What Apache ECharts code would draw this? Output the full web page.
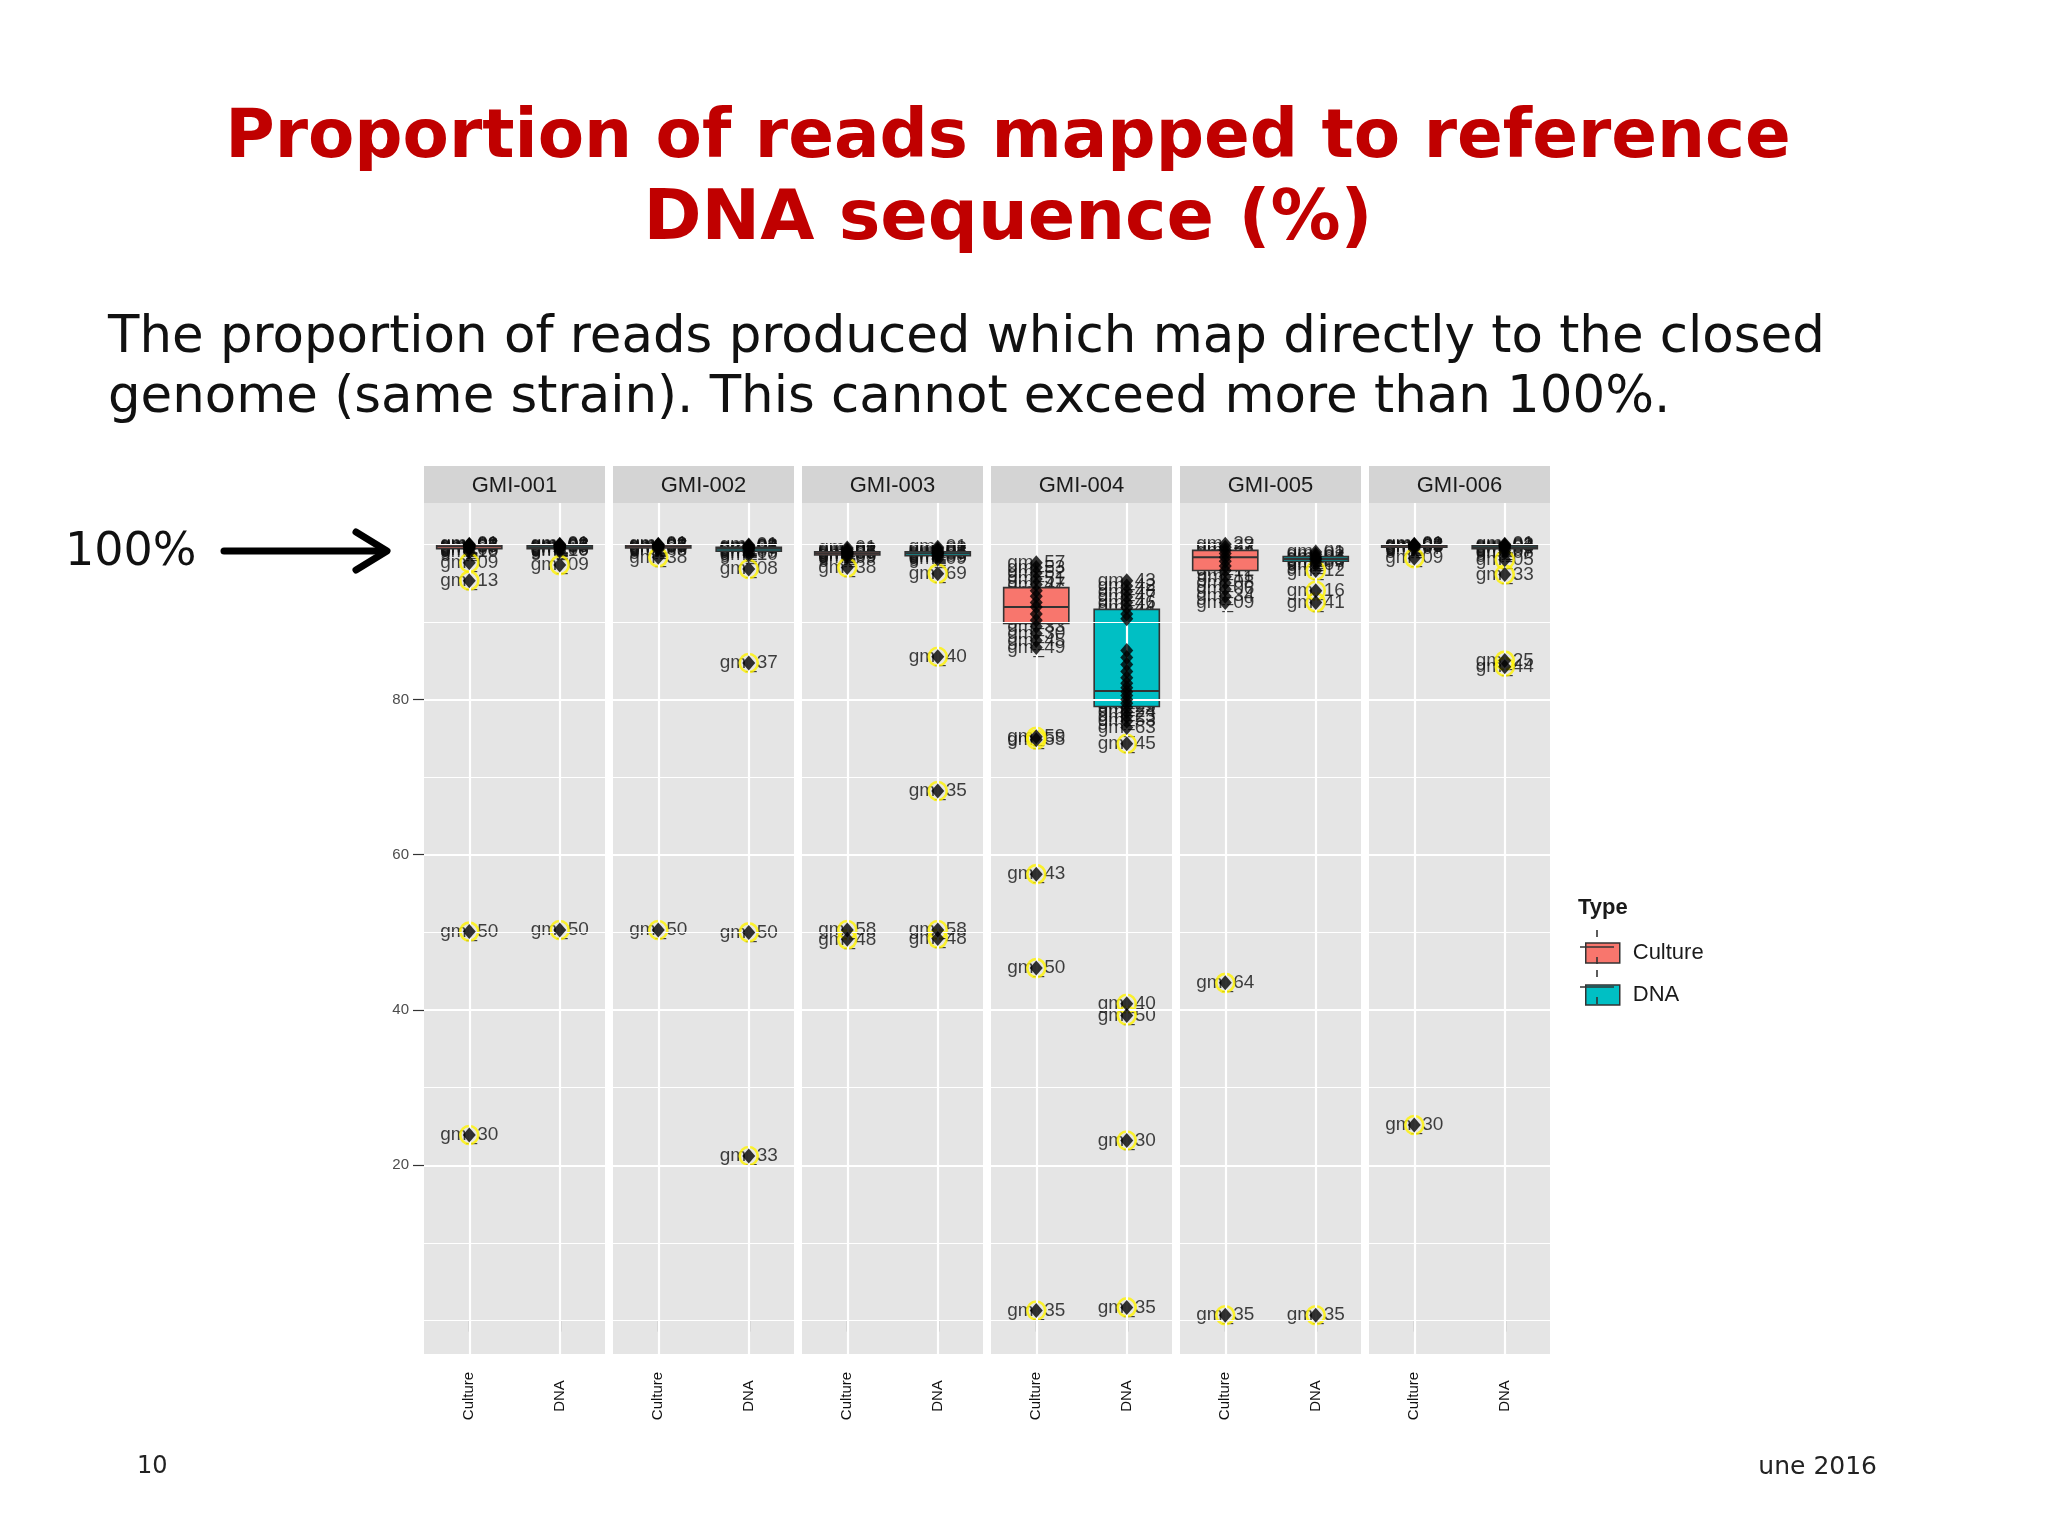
<!DOCTYPE html>
<html><head><meta charset="utf-8">
<script src="https://cdn.jsdelivr.net/npm/echarts@6/dist/echarts.min.js"></script>
<style>html,body{margin:0;padding:0;background:#fff}#c{width:2048px;height:1536px}</style>
</head><body><div id="c"></div>
<script>
// ---------------- DATA ----------------
const panels = ['GMI-001', 'GMI-002', 'GMI-003', 'GMI-004', 'GMI-005', 'GMI-006'];
const types = ['Culture', 'DNA'];
const yLabelTicks = [20, 40, 60, 80];
const minorGrid = [0, 10, 30, 50, 70, 90, 100];

// [min whisker, Q1, median, Q3, max whisker]
const boxCulture = [
  [98.8, 99.4, 99.7, 99.9, 100.0],
  [99.0, 99.5, 99.7, 99.9, 100.0],
  [98.1, 98.6, 98.8, 99.0, 99.5],
  [86.7, 89.8, 91.9, 94.4, 97.6],
  [92.5, 96.6, 98.3, 99.2, 100.0],
  [99.2, 99.6, 99.8, 99.9, 100.0]
];
const boxDNA = [
  [99.0, 99.4, 99.6, 99.8, 100.0],
  [98.6, 99.1, 99.4, 99.6, 99.9],
  [98.0, 98.5, 98.8, 99.0, 99.6],
  [76.4, 79.1, 81.1, 91.6, 95.3],
  [97.2, 97.8, 98.1, 98.4, 99.0],
  [98.8, 99.4, 99.6, 99.8, 100.0]
];

const ptsCulture001 = [['gm_01',100.0],['gm_02',99.9],['gm_03',99.9],['gm_04',99.8],['gm_05',99.7],['gm_06',99.6],['gm_07',99.5],['gm_08',99.3],['gm_10',99.0],['gm_09',97.6],['gm_13',95.3],['gm_50',50.1],['gm_30',23.9]];
const ptsCulture002 = [['gm_01',100.0],['gm_02',99.9],['gm_03',99.9],['gm_04',99.8],['gm_05',99.7],['gm_06',99.6],['gm_07',99.5],['gm_08',99.3],['gm_38',98.3],['gm_50',50.3]];
const ptsCulture003 = [['gm_01',99.5],['gm_02',99.3],['gm_03',99.1],['gm_04',99.0],['gm_05',98.9],['gm_06',98.8],['gm_07',98.7],['gm_08',98.5],['gm_09',98.3],['gm_38',97.0],['gm_58',50.3],['gm_48',49.1]];
const ptsCulture004 = [['gm_57',97.6],['gm_53',97.0],['gm_52',96.3],['gm_51',95.5],['gm_47',94.8],['gm_46',94.0],['gm_44',93.3],['gm_42',92.5],['gm_41',91.9],['gm_38',91.0],['gm_37',90.2],['gm_33',89.4],['gm_30',88.5],['gm_45',87.6],['gm_49',86.7],['gm_59',75.2],['gm_55',74.8],['gm_43',57.5],['gm_50',45.4],['gm_35',1.3]];
const ptsCulture005 = [['gm_29',100.0],['gm_27',99.6],['gm_24',99.2],['gm_22',98.8],['gm_20',98.3],['gm_18',97.8],['gm_15',97.2],['gm_12',96.6],['gm_11',95.8],['gm_08',95.0],['gm_06',94.2],['gm_34',93.3],['gm_09',92.5],['gm_64',43.5],['gm_35',0.7]];
const ptsCulture006 = [['gm_01',100.0],['gm_02',99.9],['gm_03',99.9],['gm_04',99.8],['gm_05',99.7],['gm_06',99.6],['gm_07',99.4],['gm_09',98.2],['gm_30',25.2]];

const ptsDNA001 = [['gm_01',100.0],['gm_02',99.9],['gm_03',99.9],['gm_04',99.8],['gm_05',99.7],['gm_06',99.6],['gm_07',99.5],['gm_08',99.3],['gm_10',99.1],['gm_09',97.3],['gm_50',50.3]];
const ptsDNA002 = [['gm_01',99.9],['gm_02',99.8],['gm_03',99.7],['gm_04',99.6],['gm_05',99.5],['gm_06',99.4],['gm_07',99.2],['gm_09',98.9],['gm_10',98.6],['gm_08',96.8],['gm_37',84.7],['gm_50',50.0],['gm_33',21.2]];
const ptsDNA003 = [['gm_01',99.6],['gm_02',99.4],['gm_03',99.2],['gm_04',99.0],['gm_05',98.9],['gm_06',98.8],['gm_07',98.6],['gm_08',98.4],['gm_09',98.1],['gm_69',96.2],['gm_40',85.5],['gm_35',68.2],['gm_58',50.3],['gm_48',49.2]];
const ptsDNA004 = [['gm_43',95.3],['gm_42',94.6],['gm_48',93.9],['gm_47',93.2],['gm_46',92.5],['gm_44',91.8],['gm_41',91.0],['gm_39',90.4],['gm_38',86.3],['gm_37',85.4],['gm_36',84.5],['gm_34',83.6],['gm_33',82.8],['gm_32',82.1],['gm_31',81.5],['gm_29',81.0],['gm_28',80.5],['gm_27',80.0],['gm_26',79.5],['gm_25',79.0],['gm_24',78.4],['gm_23',77.8],['gm_53',77.2],['gm_63',76.4],['gm_45',74.3],['gm_40',40.8],['gm_50',39.3],['gm_30',23.2],['gm_35',1.7]];
const ptsDNA005 = [['gm_01',99.0],['gm_02',98.7],['gm_03',98.4],['gm_04',98.2],['gm_05',98.0],['gm_06',97.7],['gm_07',97.4],['gm_12',96.6],['gm_16',94.0],['gm_41',92.5],['gm_35',0.7]];
const ptsDNA006 = [['gm_01',100.0],['gm_02',99.9],['gm_03',99.8],['gm_04',99.7],['gm_06',99.5],['gm_07',99.2],['gm_08',98.9],['gm_05',98.0],['gm_33',96.1],['gm_25',85.0],['gm_44',84.2]];

const ptsCulture = [ptsCulture001, ptsCulture002, ptsCulture003, ptsCulture004, ptsCulture005, ptsCulture006];
const ptsDNA = [ptsDNA001, ptsDNA002, ptsDNA003, ptsDNA004, ptsDNA005, ptsDNA006];

// ---------------- STYLE / LAYOUT ----------------
const fillColors = { Culture: '#F8766D', DNA: '#00BFC4' };
const PANEL_LEFT = 424, PANEL_W = 181, PANEL_STEP = 189;
const PANEL_TOP = 503, PANEL_H = 851;
const Y_MIN = -4.3, Y_MAX = 105.3;
const STRIP_H = 37;
const sans = '"Liberation Sans", Arial, sans-serif';
const verdana = '"DejaVu Sans", Verdana, sans-serif';

function renderBox(params, api) {
  const x = api.value(0);
  const lo = api.coord([x, api.value(1)]);
  const q1 = api.coord([x, api.value(2)]);
  const md = api.coord([x, api.value(3)]);
  const q3 = api.coord([x, api.value(4)]);
  const hi = api.coord([x, api.value(5)]);
  const bw = api.size([1, 0])[0] * 0.72;
  const cx = lo[0];
  const ln = { stroke: '#333333', lineWidth: 1.6 };
  return {
    type: 'group',
    children: [
      { type: 'line', shape: { x1: cx, y1: hi[1], x2: cx, y2: q3[1] }, style: ln },
      { type: 'line', shape: { x1: cx, y1: q1[1], x2: cx, y2: lo[1] }, style: ln },
      { type: 'rect', shape: { x: cx - bw / 2, y: q3[1], width: bw, height: Math.max(q1[1] - q3[1], 1) },
        style: { fill: api.visual('color'), stroke: '#333333', lineWidth: 1.6 } },
      { type: 'line', shape: { x1: cx - bw / 2, y1: md[1], x2: cx + bw / 2, y2: md[1] }, style: { stroke: '#333333', lineWidth: 2 } }
    ]
  };
}

const grids = [], xAxes = [], yAxes = [], series = [], graphics = [];

panels.forEach((p, i) => {
  const left = PANEL_LEFT + i * PANEL_STEP;
  grids.push({ left: left, top: PANEL_TOP, width: PANEL_W, height: PANEL_H, show: true,
    backgroundColor: '#E5E5E5', borderWidth: 0 });
  xAxes.push({
    type: 'category', gridIndex: i, data: types, boundaryGap: true,
    axisLine: { show: false },
    axisTick: { show: true, alignWithLabel: true, length: 11, lineStyle: { color: '#333', width: 1.2 } },
    axisLabel: { rotate: 90, align: 'center', verticalAlign: 'middle', margin: 42,
      fontSize: 15, color: '#111', fontFamily: sans },
    splitLine: { show: false }
  });
  yAxes.push({
    type: 'value', gridIndex: i, min: Y_MIN, max: Y_MAX,
    splitLine: { show: false }, axisLine: { show: false },
    axisTick: { show: i === 0, length: 11, customValues: yLabelTicks, lineStyle: { color: '#333', width: 1.2 } },
    axisLabel: { show: i === 0, customValues: yLabelTicks, fontSize: 15, color: '#4d4d4d', margin: 15,
      fontFamily: sans, formatter: v => (yLabelTicks.indexOf(v) >= 0 ? String(v) : '') }
  });

  // grid lines
  const mlData = [];
  minorGrid.forEach(v => mlData.push({ yAxis: v, lineStyle: { color: '#ffffff', width: 1.1, type: 'solid', opacity: 1 } }));
  yLabelTicks.forEach(v => mlData.push({ yAxis: v, lineStyle: { color: '#ffffff', width: 2.2, type: 'solid', opacity: 1 } }));
  types.forEach((t, k) => mlData.push({ xAxis: k, lineStyle: { color: '#ffffff', width: 2.2, type: 'solid', opacity: 1 } }));
  series.push({
    type: 'scatter', xAxisIndex: i, yAxisIndex: i, data: [], z: 1, silent: true,
    markLine: { silent: true, symbol: ['none', 'none'], label: { show: false }, animation: false, data: mlData }
  });

  const groups = [[ptsCulture[i], boxCulture[i], 0, 'Culture'], [ptsDNA[i], boxDNA[i], 1, 'DNA']];
  groups.forEach(([pts, box, k, name]) => {
    // labels (under boxes)
    series.push({
      type: 'scatter', xAxisIndex: i, yAxisIndex: i, z: 2, silent: true,
      symbol: 'circle', symbolSize: 1, itemStyle: { color: 'rgba(0,0,0,0)' },
      label: { show: true, position: 'inside', offset: [0, 3], formatter: '{b}',
        color: '#111111', fontSize: 19, fontFamily: sans },
      labelLayout: { hideOverlap: false },
      data: pts.map(d => ({ name: d[0], value: [k, d[1]] }))
    });
    // box
    series.push({
      type: 'custom', name: name, xAxisIndex: i, yAxisIndex: i, z: 3,
      itemStyle: { color: fillColors[name] },
      encode: { x: 0, y: [1, 2, 3, 4, 5] },
      renderItem: renderBox,
      data: [[k].concat(box)]
    });
    // yellow rings on outliers
    series.push({
      type: 'scatter', xAxisIndex: i, yAxisIndex: i, z: 4, silent: true,
      symbol: 'circle', symbolSize: 18,
      itemStyle: { color: 'rgba(0,0,0,0)', borderColor: '#FFF200', borderWidth: 2.6 },
      data: pts.filter(d => d[1] < box[0] || d[1] > box[4]).map(d => ({ name: d[0], value: [k, d[1]] }))
    });
    // black points
    series.push({
      type: 'scatter', xAxisIndex: i, yAxisIndex: i, z: 5, silent: true,
      symbol: 'diamond', symbolSize: [13, 15], itemStyle: { color: '#000000' },
      data: pts.map(d => ({ name: d[0], value: [k, d[1]] }))
    });
  });

  // strip
  graphics.push({ type: 'rect', silent: true, shape: { x: left, y: PANEL_TOP - STRIP_H, width: PANEL_W, height: STRIP_H },
    style: { fill: '#D4D4D4' } });
  graphics.push({ type: 'text', silent: true, x: left + PANEL_W / 2, y: PANEL_TOP - STRIP_H / 2 + 1,
    style: { text: p, font: '22px ' + sans, fill: '#1a1a1a', align: 'center', verticalAlign: 'middle' } });
});

// Titles & annotations
graphics.push(
  { type: 'text', x: 1008, y: 139, style: { text: 'Proportion of reads mapped to reference', font: 'bold 67.5px ' + verdana, fill: '#C00000', align: 'center', verticalAlign: 'middle' } },
  { type: 'text', x: 1008, y: 221, style: { text: 'DNA sequence (%)', font: 'bold 70px ' + verdana, fill: '#C00000', align: 'center', verticalAlign: 'middle' } },
  { type: 'text', x: 108, y: 339, style: { text: 'The proportion of reads produced which map directly to the closed', font: '51.4px ' + verdana, fill: '#111111', align: 'left', verticalAlign: 'middle' } },
  { type: 'text', x: 108, y: 399, style: { text: 'genome (same strain). This cannot exceed more than 100%.', font: '51.4px ' + verdana, fill: '#111111', align: 'left', verticalAlign: 'middle' } },
  { type: 'text', x: 65, y: 553, style: { text: '100%', font: '46px ' + verdana, fill: '#111111', align: 'left', verticalAlign: 'middle' } },
  { type: 'line', shape: { x1: 224, y1: 551, x2: 384, y2: 551 }, style: { stroke: '#000', lineWidth: 7, lineCap: 'round' } },
  { type: 'polyline', shape: { points: [[356, 532], [387, 551], [356, 570]] }, style: { stroke: '#000', fill: 'none', lineWidth: 7, lineCap: 'round', lineJoin: 'round' } },
  { type: 'text', x: 137, y: 1467, style: { text: '10', font: '24px ' + verdana, fill: '#222', align: 'left', verticalAlign: 'middle' } },
  { type: 'text', x: 1877, y: 1467, style: { text: 'une 2016', font: '25px ' + verdana, fill: '#222', align: 'right', verticalAlign: 'middle' } },
  { type: 'text', x: 1578, y: 908, style: { text: 'Type', font: 'bold 22px ' + sans, fill: '#1a1a1a', align: 'left', verticalAlign: 'middle' } }
);
// legend key decorations (median + whiskers)
[947, 987].forEach(cy => {
  graphics.push(
    { type: 'line', z: 100, shape: { x1: 1580, y1: cy, x2: 1614, y2: cy }, style: { stroke: '#333', lineWidth: 1.6 } },
    { type: 'line', z: 100, shape: { x1: 1597, y1: cy - 17, x2: 1597, y2: cy - 10 }, style: { stroke: '#333', lineWidth: 1.6 } },
    { type: 'line', z: 100, shape: { x1: 1597, y1: cy + 10, x2: 1597, y2: cy + 17 }, style: { stroke: '#333', lineWidth: 1.6 } }
  );
});

const chart = echarts.init(document.getElementById('c'));
chart.setOption({
  animation: false,
  backgroundColor: '#ffffff',
  grid: grids, xAxis: xAxes, yAxis: yAxes, series: series,
  legend: {
    orient: 'vertical', left: 1580, top: 937, itemWidth: 34, itemHeight: 20, itemGap: 20,
    data: [{ name: 'Culture', icon: 'rect' }, { name: 'DNA', icon: 'rect' }],
    itemStyle: { borderColor: '#333333', borderWidth: 1.5 },
    textStyle: { fontSize: 22, color: '#1a1a1a', fontFamily: sans, padding: [0, 0, 0, 8] },
    selectedMode: false
  },
  graphic: graphics
});
</script>
</body></html>
